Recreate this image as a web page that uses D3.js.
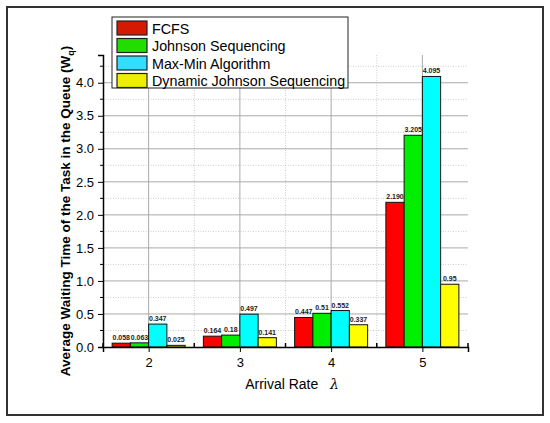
<!DOCTYPE html>
<html>
<head>
<meta charset="utf-8">
<script src="https://cdn.jsdelivr.net/npm/d3@7"></script>
<style>
  body { margin: 0; background: #fff; }
  text { font-family: "Liberation Sans", Arial, sans-serif; }
</style>
</head>
<body>
<script>
// arrival rates and the four scheduling series
var rates = [2, 3, 4, 5];
var seriesNames = ["FCFS", "Johnson Sequencing", "Max-Min Algorithm", "Dynamic Johnson Sequencing"];
var fcfs = [0.058, 0.164, 0.447, 2.190];
var johnson = [0.063, 0.18, 0.51, 3.205];
var maxmin = [0.347, 0.497, 0.552, 4.095];
var dynJohnson = [0.025, 0.141, 0.337, 0.95];
var labelText = [
    ["0.058", "0.164", "0.447", "2.190"],
    ["0.063", "0.18", "0.51", "3.205"],
    ["0.347", "0.497", "0.552", "4.095"],
    ["0.025", "0.141", "0.337", "0.95"]
];
var yTicks = [0, 0.5, 1, 1.5, 2, 2.5, 3, 3.5, 4];

var allSeries = [fcfs, johnson, maxmin, dynJohnson];
var colors = ["#ff0000", "#00ee00", "#00ffff", "#ffff00"];
var legendColors = ["#d41a00", "#22dd00", "#33ddff", "#eeee00"];

var W = 550, H = 423;
var margin = {top: 55, right: 82, bottom: 76, left: 103},
    width = W - margin.left - margin.right,
    height = H - margin.top - margin.bottom;

var svg = d3.select("body").append("svg")
    .attr("width", W)
    .attr("height", H);

// outer frame
svg.append("rect")
    .attr("x", 7).attr("y", 7)
    .attr("width", 536).attr("height", 408)
    .attr("fill", "#fff")
    .attr("stroke", "#333")
    .attr("stroke-width", 2);

var g = svg.append("g")
    .attr("transform", "translate(" + margin.left + "," + margin.top + ")");

var x = d3.scaleLinear()
    .domain([1.5, 5.5])
    .range([0, width]);

var y = d3.scaleLinear()
    .domain([0, 4.42])
    .range([height, 0]);

// minor gridlines (dotted)
g.append("g")
    .selectAll("line")
    .data(d3.range(0.25, 4.4, 0.5))
    .join("line")
    .attr("x1", 0).attr("x2", width)
    .attr("y1", function (d) { return y(d); })
    .attr("y2", function (d) { return y(d); })
    .attr("stroke", "#ccc")
    .attr("stroke-dasharray", "1,1.5");

g.append("g")
    .selectAll("line")
    .data([2.5, 3.5, 4.5])
    .join("line")
    .attr("x1", function (d) { return x(d); })
    .attr("x2", function (d) { return x(d); })
    .attr("y1", 0).attr("y2", height)
    .attr("stroke", "#ccc")
    .attr("stroke-dasharray", "1,1.5");

// major gridlines
g.append("g")
    .selectAll("line")
    .data(yTicks.slice(1))
    .join("line")
    .attr("x1", 0).attr("x2", width)
    .attr("y1", function (d) { return y(d); })
    .attr("y2", function (d) { return y(d); })
    .attr("stroke", "#aaa")
    .attr("stroke-width", 1);

g.append("g")
    .selectAll("line")
    .data(rates)
    .join("line")
    .attr("x1", function (d) { return x(d); })
    .attr("x2", function (d) { return x(d); })
    .attr("y1", 0).attr("y2", height)
    .attr("stroke", "#aaa")
    .attr("stroke-width", 1);

// bars
var barW = x(1.7) - x(1.5);
allSeries.forEach(function (vals, s) {
    var off = (s - 2) * 0.2;
    g.append("g")
        .selectAll("rect")
        .data(vals)
        .join("rect")
        .attr("x", function (d, i) { return x(rates[i] + off); })
        .attr("y", function (d) { return y(d); })
        .attr("width", barW)
        .attr("height", function (d) { return height - y(d); })
        .attr("fill", colors[s])
        .attr("stroke", "#111")
        .attr("stroke-width", 1);

    g.append("g")
        .selectAll("text")
        .data(vals)
        .join("text")
        .attr("x", function (d, i) { return x(rates[i] + off + 0.1); })
        .attr("y", function (d) { return y(d) - 3; })
        .attr("text-anchor", "middle")
        .style("font-size", "7px")
        .style("font-weight", "bold")
        .attr("fill", "#222")
        .text(function (d, i) { return labelText[s][i]; });
});

// y axis
var yAxis = d3.axisLeft(y)
    .tickValues(yTicks)
    .tickFormat(d3.format(".1f"))
    .tickSize(5);
var ya = g.append("g").call(yAxis);
ya.selectAll("text").style("font-size", "13px").attr("fill", "#000").attr("dx", "-1");
ya.select(".domain").attr("stroke", "#000").attr("stroke-width", 1.5);

// y minor ticks
g.append("g")
    .selectAll("line")
    .data(d3.range(0.25, 4.4, 0.5))
    .join("line")
    .attr("x1", -3).attr("x2", 0)
    .attr("y1", function (d) { return y(d); })
    .attr("y2", function (d) { return y(d); })
    .attr("stroke", "#000");

// x axis
var xAxis = d3.axisBottom(x)
    .tickValues(rates)
    .tickFormat(d3.format("d"))
    .tickSize(5);
var xa = g.append("g")
    .attr("transform", "translate(0," + height + ")")
    .call(xAxis);
xa.selectAll("text").style("font-size", "13px").attr("fill", "#000").attr("dy", "0.9em");
xa.select(".domain").attr("stroke", "#000").attr("stroke-width", 1.5);

g.append("g")
    .selectAll("line")
    .data([1.5, 2.5, 3.5, 4.5, 5.5])
    .join("line")
    .attr("x1", function (d) { return x(d); })
    .attr("x2", function (d) { return x(d); })
    .attr("y1", height - 4).attr("y2", height)
    .attr("stroke", "#000")
    .attr("stroke-width", 1.5);

// axis labels
var yl = svg.append("text")
    .attr("transform", "translate(70," + (margin.top + height / 2 + 10) + ") rotate(-90)")
    .attr("text-anchor", "middle")
    .style("font-size", "13.5px")
    .style("font-weight", "bold");
yl.append("tspan").text("Average Waiting Time of the Task in the Queue (W");
yl.append("tspan").attr("dy", 4).style("font-size", "9px").text("q");
yl.append("tspan").attr("dy", -4).text(")");

var xl = svg.append("text")
    .attr("x", 292)
    .attr("y", 389)
    .attr("text-anchor", "middle")
    .style("font-size", "14px")
    .style("white-space", "pre");
xl.append("tspan").text("Arrival Rate   ");
xl.append("tspan").style("font-style", "italic").style("font-family", "'DejaVu Serif', serif").text("λ");

// legend
var leg = svg.append("g").attr("transform", "translate(112,17)");
leg.append("rect")
    .attr("width", 236).attr("height", 71)
    .attr("fill", "#fff")
    .attr("stroke", "#222")
    .attr("stroke-width", 1);
seriesNames.forEach(function (name, i) {
    var row = leg.append("g").attr("transform", "translate(5," + (4 + i * 17.5) + ")");
    row.append("rect")
        .attr("width", 30).attr("height", 14)
        .attr("fill", legendColors[i])
        .attr("stroke", "#222")
        .attr("stroke-width", 1.2);
    row.append("text")
        .attr("x", 35).attr("y", 12.5)
        .style("font-size", "14.3px")
        .text(name);
});
</script>
</body>
</html>
